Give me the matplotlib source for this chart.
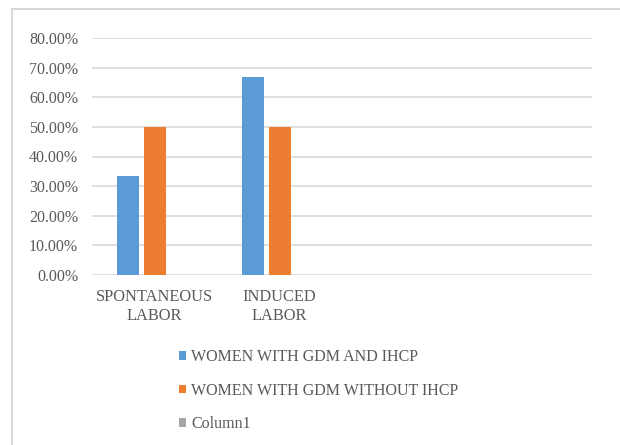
import matplotlib.pyplot as plt
import numpy as np
from matplotlib.lines import Line2D
from matplotlib.ticker import FuncFormatter

plt.rcParams['font.family'] = ['Liberation Serif', 'DejaVu Serif']

# data
categories = ['SPONTANEOUS\nLABOR', 'INDUCED\nLABOR', '', '']
with_ihcp = [33.33, 66.67, 0, 0]
without_ihcp = [50.0, 50.0, 0, 0]
column1 = [0, 0, 0, 0]
series_names = ['WOMEN WITH GDM AND IHCP', 'WOMEN WITH GDM WITHOUT IHCP', 'Column1']
colors = ['#5B9BD5', '#ED7D31', '#A5A5A5']
txt = '#595959'

fig = plt.figure(figsize=(6.2, 4.45), dpi=100)
ax = fig.add_axes([92/620, 1-275/445, 500/620, 237/445])

# chart frame, only left and top edges fall inside the image
fx, fy = 12/620, 1-9/445
fig.lines.append(Line2D([fx, fx], [0, fy], transform=fig.transFigure, color='#D9D9D9', linewidth=1.5))
fig.lines.append(Line2D([fx, 1], [fy, fy], transform=fig.transFigure, color='#D9D9D9', linewidth=1.5))

x = np.arange(len(categories))
w = 0.176
step = 0.216
handles = []
for i, vals in enumerate([with_ihcp, without_ihcp, column1]):
    b = ax.bar(x + (i-1)*step, vals, width=w, color=colors[i], label=series_names[i], zorder=3)
    handles.append(b)

ax.set_xlim(-0.5, 3.5)
ax.set_ylim(0, 80)
ax.set_yticks(np.arange(0, 81, 10))
ax.yaxis.set_major_formatter(FuncFormatter(lambda v, p: '%.2f%%' % v))
ax.grid(axis='y', color='#D9D9D9', linewidth=1.2, zorder=0)
for s in ax.spines.values():
    s.set_visible(False)
ax.tick_params(length=0, colors=txt)
ax.tick_params(axis='y', pad=10, labelsize=11.5)
ax.tick_params(axis='x', pad=10, labelsize=11.8)
ax.set_xticks(x)
ax.set_xticklabels(categories, linespacing=1.25)

fig.legend(handles=handles, loc='upper left', bbox_to_anchor=(179/620, 1-349/445),
           frameon=False, fontsize=11.5, labelcolor=txt, handlelength=0.45, handleheight=0.45,
           handletextpad=0.3, labelspacing=1.1, borderpad=0, borderaxespad=0)

plt.savefig('out.png', dpi=100)
